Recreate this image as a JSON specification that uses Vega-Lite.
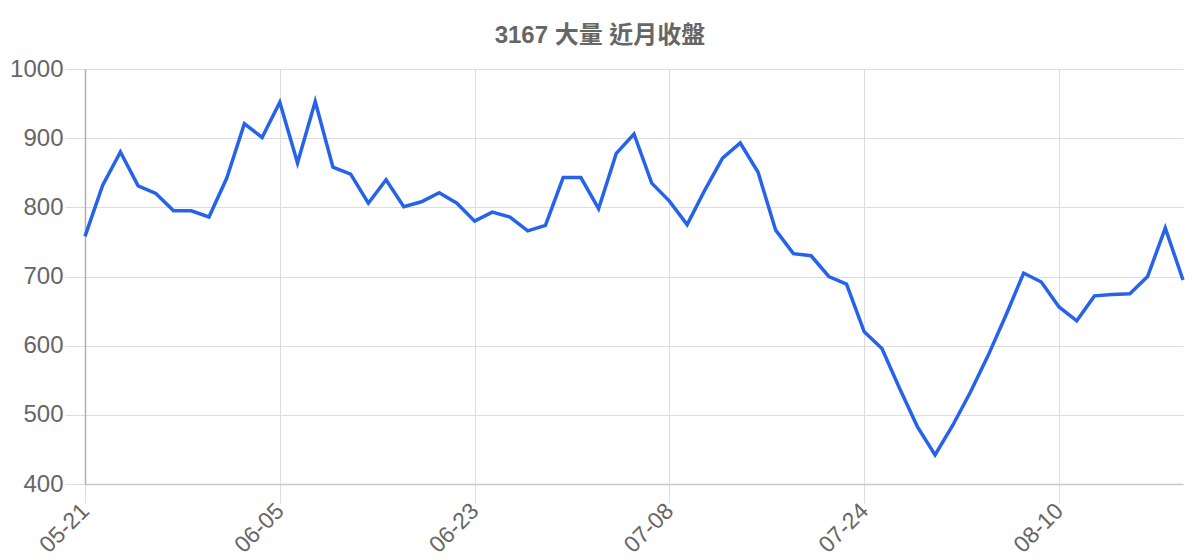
{
  "$schema": "https://vega.github.io/schema/vega-lite/v6.json",
  "width": 1098,
  "height": 415,
  "autosize": {"type": "none"},
  "padding": {"left": 85, "top": 69, "right": 17, "bottom": 76},
  "background": "white",
  "title": {
    "text": "3167 大量 近月收盤",
    "frame": "group",
    "anchor": "middle",
    "dx": -34,
    "offset": 9,
    "fontSize": 24,
    "fontWeight": "bold",
    "color": "#666666",
    "font": "Liberation Sans, Noto Sans CJK TC"
  },
  "data": {
    "values": [
      {"date": "05-21", "close": 758},
      {"date": "05-22", "close": 832},
      {"date": "05-25", "close": 880},
      {"date": "05-26", "close": 831},
      {"date": "05-27", "close": 820},
      {"date": "05-28", "close": 795},
      {"date": "05-29", "close": 795},
      {"date": "06-01", "close": 786},
      {"date": "06-02", "close": 842},
      {"date": "06-03", "close": 921},
      {"date": "06-04", "close": 901},
      {"date": "06-05", "close": 952},
      {"date": "06-08", "close": 864},
      {"date": "06-09", "close": 953},
      {"date": "06-10", "close": 858},
      {"date": "06-11", "close": 848},
      {"date": "06-12", "close": 806},
      {"date": "06-15", "close": 840},
      {"date": "06-16", "close": 801},
      {"date": "06-17", "close": 808},
      {"date": "06-18", "close": 821},
      {"date": "06-19", "close": 806},
      {"date": "06-23", "close": 780},
      {"date": "06-24", "close": 793},
      {"date": "06-25", "close": 786},
      {"date": "06-26", "close": 766},
      {"date": "06-29", "close": 774},
      {"date": "06-30", "close": 843},
      {"date": "07-01", "close": 843},
      {"date": "07-02", "close": 798},
      {"date": "07-03", "close": 878},
      {"date": "07-06", "close": 906},
      {"date": "07-07", "close": 835},
      {"date": "07-08", "close": 809},
      {"date": "07-09", "close": 775},
      {"date": "07-10", "close": 825},
      {"date": "07-13", "close": 871},
      {"date": "07-14", "close": 893},
      {"date": "07-15", "close": 851},
      {"date": "07-16", "close": 767},
      {"date": "07-17", "close": 733},
      {"date": "07-20", "close": 730},
      {"date": "07-21", "close": 700},
      {"date": "07-23", "close": 689},
      {"date": "07-24", "close": 620},
      {"date": "07-27", "close": 596},
      {"date": "07-28", "close": 538},
      {"date": "07-29", "close": 483},
      {"date": "07-30", "close": 442},
      {"date": "07-31", "close": 485},
      {"date": "08-03", "close": 533},
      {"date": "08-04", "close": 586},
      {"date": "08-05", "close": 644},
      {"date": "08-06", "close": 705},
      {"date": "08-07", "close": 692},
      {"date": "08-10", "close": 656},
      {"date": "08-11", "close": 636},
      {"date": "08-12", "close": 672},
      {"date": "08-13", "close": 674},
      {"date": "08-14", "close": 675},
      {"date": "08-17", "close": 700},
      {"date": "08-18", "close": 770},
      {"date": "08-19", "close": 695}
    ]
  },
  "mark": {"type": "line", "color": "#2563eb", "strokeWidth": 3.5},
  "encoding": {
    "x": {
      "field": "date",
      "type": "ordinal",
      "sort": null,
      "scale": {"type": "point", "padding": 0},
      "axis": {
        "title": null,
        "values": ["05-21", "06-05", "06-23", "07-08", "07-24", "08-10"],
        "labelAngle": -45,
        "labelAlign": "right",
        "labelBaseline": "middle",
        "labelFontSize": 23,
        "labelColor": "#666666",
        "labelFont": "Liberation Sans",
        "labelPadding": 4,
        "grid": true,
        "gridColor": "#dddddd",
        "tickColor": "#dddddd",
        "tickSize": 19,
        "domainColor": "#c8c8c8",
        "domainWidth": 1.5
      }
    },
    "y": {
      "field": "close",
      "type": "quantitative",
      "scale": {"domain": [400, 1000], "nice": false, "zero": false},
      "axis": {
        "title": null,
        "format": "d",
        "values": [400, 500, 600, 700, 800, 900, 1000],
        "labelFontSize": 24,
        "labelColor": "#666666",
        "labelFont": "Liberation Sans",
        "labelPadding": 2,
        "grid": true,
        "gridColor": "#dddddd",
        "tickColor": "#dddddd",
        "tickSize": 20,
        "domainColor": "#b0b0b0",
        "domainWidth": 1.5
      }
    }
  },
  "config": {"view": {"stroke": null}}
}
